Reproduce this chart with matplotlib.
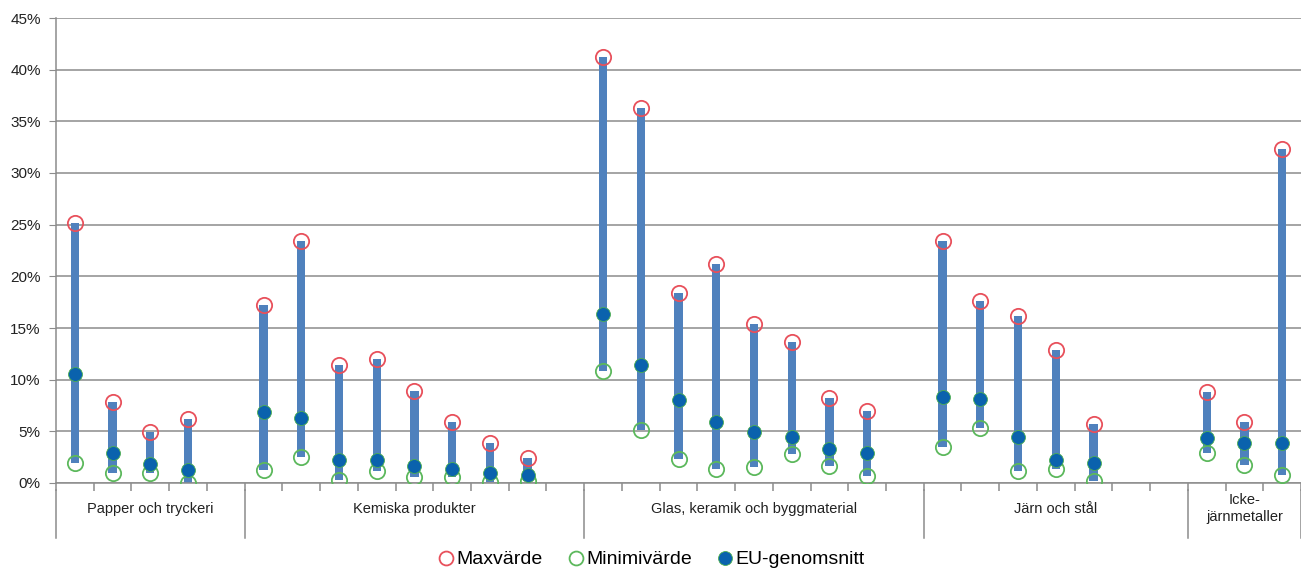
import numpy as np
import matplotlib.pyplot as plt
from matplotlib.lines import Line2D

plt.rcParams['font.family'] = ['Liberation Sans', 'DejaVu Sans']

groups = ['Papper och tryckeri', 'Kemiska produkter', 'Glas, keramik och byggmaterial',
          'Järn och stål', 'Icke-\njärnmetaller']
group_slots = [5, 9, 9, 7, 3]
group_counts = [4, 8, 8, 5, 3]

max_val = [25.2, 7.8, 4.9, 6.2,
           17.2, 23.4, 11.4, 12.0, 8.9, 5.9, 3.9, 2.45,
           41.2, 36.3, 18.4, 21.2, 15.35, 13.6, 8.26, 6.97,
           23.4, 17.6, 16.16, 12.87, 5.7,
           8.84, 5.94, 32.3]
min_val = [1.9, 1.0, 0.94, 0.03,
           1.26, 2.49, 0.3, 1.16, 0.6, 0.55, 0.13, 0.2,
           10.8, 5.13, 2.32, 1.32, 1.52, 2.8, 1.68, 0.68,
           3.5, 5.29, 1.19, 1.35, 0.23,
           2.87, 1.74, 0.77]
eu_avg = [10.55, 2.9, 1.8, 1.26,
          6.84, 6.26, 2.2, 2.2, 1.68, 1.32, 0.94, 0.77,
          16.4, 11.4, 8.03, 5.87, 4.9, 4.48, 3.26, 2.87,
          8.29, 8.1, 4.42, 2.2, 1.97,
          4.32, 3.84, 3.9]

# x positions: items sit in slots, groups padded with empty slots
xs = []
bounds = [0]
start = 0
for n_slots, n_items in zip(group_slots, group_counts):
    xs += [start + i + 0.5 for i in range(n_items)]
    start += n_slots
    bounds.append(start)
xs = np.array(xs)
max_val = np.array(max_val)
min_val = np.array(min_val)
eu_avg = np.array(eu_avg)

fig = plt.figure(figsize=(13.01, 5.71), dpi=100)
ax = fig.add_axes([56/1301, 88/571, 1245/1301, 465/571])

grid_c = '#8c8c8c'
ax.set_ylim(0, 45)
ax.set_xlim(0, bounds[-1])
ax.set_yticks(np.arange(0, 46, 5))
ax.set_yticklabels([f'{v}%' for v in range(0, 46, 5)], fontsize=11, color='#222222')
ax.yaxis.grid(True, color=grid_c, linewidth=1.1)
ax.set_axisbelow(True)
for s in ['top', 'right']:
    ax.spines[s].set_visible(False)
ax.spines['left'].set_color(grid_c)
ax.spines['bottom'].set_color(grid_c)
ax.spines['left'].set_linewidth(1.1)
ax.spines['bottom'].set_linewidth(1.1)
ax.tick_params(axis='y', length=5, color=grid_c, pad=6)
ax.set_xticks(np.arange(0, bounds[-1] + 1))
ax.set_xticklabels([])
ax.tick_params(axis='x', length=6, color=grid_c, width=1.1)

ax.bar(xs, max_val - min_val, bottom=min_val, width=0.22, color='#4f81bd', zorder=2)
ax.plot(xs, max_val, 'o', ms=11, mfc='none', mec='#e8505b', mew=1.3, zorder=3)
ax.plot(xs, min_val, 'o', ms=11, mfc='none', mec='#5cb85c', mew=1.3, zorder=3)
ax.plot(xs, eu_avg, 'o', ms=10, mfc='#0a62ad', mec='#4caf50', mew=0.6, zorder=4)

trans = ax.get_xaxis_transform()
for b in bounds:
    ax.plot([b, b], [-0.016, -0.118], color=grid_c, lw=1.1, transform=trans, clip_on=False)
for g, lo, hi in zip(groups, bounds[:-1], bounds[1:]):
    ax.text((lo + hi) / 2, -0.055, g, transform=trans, ha='center', va='center',
            fontsize=10.5, color='#222222', linespacing=1.2)

handles = [Line2D([], [], ls='none', marker='o', ms=10, mfc='none', mec='#e8505b', mew=1.3),
           Line2D([], [], ls='none', marker='o', ms=10, mfc='none', mec='#5cb85c', mew=1.3),
           Line2D([], [], ls='none', marker='o', ms=10, mfc='#0a62ad', mec='#4caf50', mew=0.6)]
fig.legend(handles, ['Maxvärde', 'Minimivärde', 'EU-genomsnitt'], loc='center',
           bbox_to_anchor=(0.5, 0.02), ncol=3, frameon=False, fontsize=14,
           handletextpad=0.05, columnspacing=1.2, handlelength=1.0)

fig.savefig('out.png', dpi=100)
